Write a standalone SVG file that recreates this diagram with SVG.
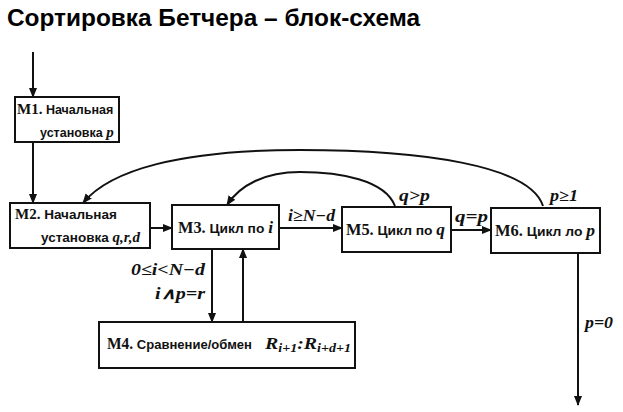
<svg xmlns="http://www.w3.org/2000/svg" width="623" height="412" viewBox="0 0 623 412">
<style>
.box{fill:#fff;stroke:#111;stroke-width:2}
.t{font-family:"Liberation Sans",Arial,sans-serif;font-size:13.5px;font-weight:bold;fill:#111}
.n{font-family:"Liberation Serif","Times New Roman",serif;font-size:16px;font-weight:bold}
.m{font-family:"Liberation Serif","Times New Roman",serif;font-size:17px;font-style:italic;font-weight:bold;fill:#111}
.s{font-size:15px}
.lbl{font-family:"Liberation Serif","Times New Roman",serif;font-size:16px;font-style:italic;font-weight:bold;fill:#111}
.c{fill:none;stroke:#111;stroke-width:2;marker-end:url(#ah)}
</style>
<defs>
<marker id="ah" viewBox="0 0 10 10" refX="9" refY="5" markerWidth="5" markerHeight="5" orient="auto" markerUnits="strokeWidth">
<path d="M0,1 L10,5 L0,9 Z" fill="#111"/>
</marker>
</defs>
<rect width="623" height="412" fill="#fff"/>
<text x="7" y="26" font-family="'Liberation Sans',Arial,sans-serif" font-size="24.4" font-weight="bold" fill="#000">Сортировка Бетчера – блок-схема</text>

<g id="connectors">
<path class="c" d="M33,52 L33,97"/>
<path class="c" d="M33,142 L33,203"/>
<path class="c" d="M150,228 L172,228"/>
<path class="c" d="M279,228 L342,228"/>
<path class="c" d="M451,230 L491,230"/>
<path class="c" d="M212,249 L212,322"/>
<path class="c" d="M243,322 L243,249"/>
<path class="c" d="M578,253 L578,405"/>
<path class="c" d="M543,206 C530,165 420,150 300,150 C180,150 110,170 83,203"/>
<path class="c" d="M395,206 C385,180 340,172 300,172 C265,172 240,185 227,205"/>
<text class="lbl" x="288" y="221" textLength="47" lengthAdjust="spacingAndGlyphs">i≥N−d</text>
<text class="lbl" x="455" y="222" textLength="33" lengthAdjust="spacingAndGlyphs">q=p</text>
<text class="lbl" x="399" y="201" textLength="31" lengthAdjust="spacingAndGlyphs">q&gt;p</text>
<text class="lbl" x="550" y="201" textLength="28" lengthAdjust="spacingAndGlyphs">p≥1</text>
<text class="lbl" x="131" y="275" textLength="74" lengthAdjust="spacingAndGlyphs">0≤i&lt;N−d</text>
<text class="lbl" x="155" y="299" textLength="50" lengthAdjust="spacingAndGlyphs">i∧p=r</text>
<text class="lbl" x="585" y="328" textLength="28" lengthAdjust="spacingAndGlyphs">p=0</text>
</g>

<g id="M1">
<rect class="box" x="15" y="97" width="104" height="45"/>
<text class="t" style="font-size:12.5px"><tspan x="17" y="114"><tspan class="n s">M1.</tspan> Начальная</tspan><tspan x="40" y="137">установка <tspan class="m s">p</tspan></tspan></text>
</g>

<g id="M2">
<rect class="box" x="10" y="203" width="140" height="45"/>
<text class="t"><tspan x="15" y="219"><tspan class="n s">M2.</tspan> Начальная</tspan><tspan x="41" y="242">установка <tspan class="m s">q,r,d</tspan></tspan></text>
</g>

<g id="M3">
<rect class="box" x="172" y="205" width="107" height="44"/>
<text class="t" x="178" y="233" textLength="95" lengthAdjust="spacingAndGlyphs"><tspan class="n">M3.</tspan> Цикл по <tspan class="m">i</tspan></text>
</g>

<g id="M5">
<rect class="box" x="342" y="207" width="109" height="45"/>
<text class="t" x="346" y="235" textLength="99" lengthAdjust="spacingAndGlyphs"><tspan class="n">M5.</tspan> Цикл по <tspan class="m">q</tspan></text>
</g>

<g id="M6">
<rect class="box" x="491" y="208" width="109" height="45"/>
<text class="t" x="495" y="236" textLength="100" lengthAdjust="spacingAndGlyphs"><tspan class="n">M6.</tspan> Цикл ло <tspan class="m">p</tspan></text>
</g>

<g id="M4">
<rect class="box" x="99" y="322" width="256" height="46"/>
<text class="t" x="107" y="349" textLength="145" lengthAdjust="spacingAndGlyphs"><tspan class="n">M4.</tspan> Сравнение/обмен</text>
<text class="m" x="265" y="349" textLength="86" lengthAdjust="spacingAndGlyphs">R<tspan font-size="12" dy="3">i+1</tspan><tspan dy="-3">:R</tspan><tspan font-size="12" dy="3">i+d+1</tspan></text>
</g>
</svg>
